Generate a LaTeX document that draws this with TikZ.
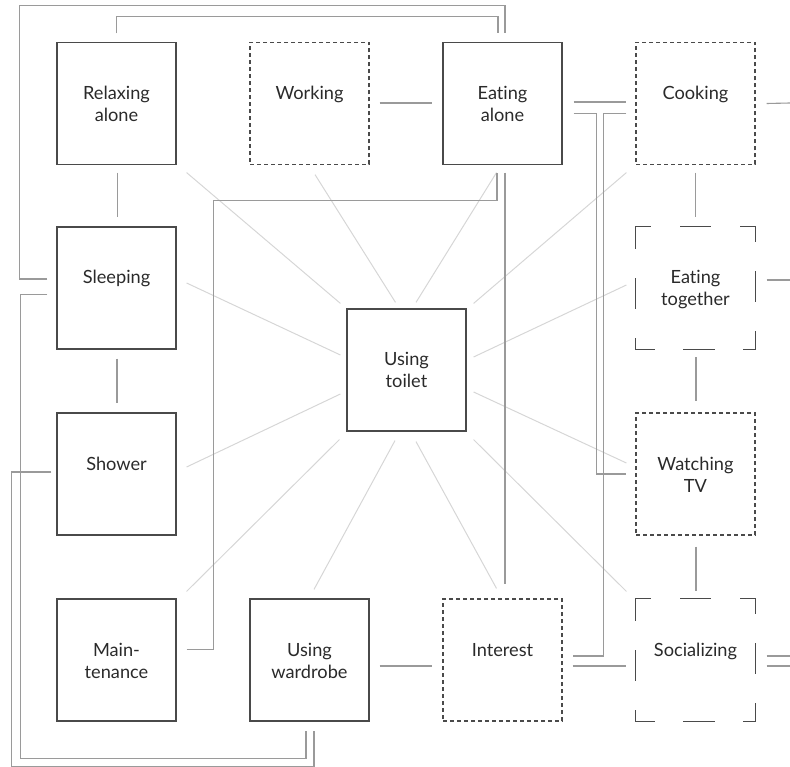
\documentclass[tikz,border=0pt]{standalone}
\usepackage{fontspec}
\setmainfont{Lato}[Ligatures={NoCommon}]
\usetikzlibrary{calc}
\definecolor{boxc}{HTML}{4A4A4A}
\definecolor{linec}{HTML}{9A9A9A}
\definecolor{radc}{HTML}{D6D6D6}
\definecolor{txtc}{HTML}{2A2A2A}
\newcommand{\boxtext}[1]{\parbox[c][122pt][t]{119pt}{\centering\fontsize{18.2}{22}\selectfont\vspace*{41.6pt}\strut #1}}
\tikzset{
  act/.style={draw=boxc, line width=1.2pt, rectangle, minimum width=119pt, minimum height=122pt, inner sep=0pt, text=txtc},
  fine/.style={act, dash pattern=on 4pt off 3pt},
  cornerbox/.style={act, draw=none},
  cornerdash/.style={draw=boxc, line width=1.2pt, line cap=rect, dash pattern=on 30pt off 30pt, dash phase=15pt},
  conn/.style={draw=linec, line width=1.1pt},
  ray/.style={draw=radc, line width=1pt},
}
\begin{document}
\begin{tikzpicture}[x=1pt, y=-1pt]
\useasboundingbox (0,0) rectangle (790,767);
% boxes
\node[act] (relax) at (116.5,103.5) {\boxtext{Relaxing\\alone}};
\node[fine] (work) at (309.5,103.5) {\boxtext{Working}};
\node[act] (eatal) at (502.5,103.5) {\boxtext{Eating\\alone}};
\node[fine] (cook) at (695.5,103.5) {\boxtext{Cooking}};
\node[act] (sleep) at (116.5,288) {\boxtext{Sleeping}};
\node[cornerbox] (eattog) at (695.5,288) {\boxtext{Eating\\together}};
\node[act] (toilet) at (406.5,370) {\boxtext{Using\\toilet}};
\node[act] (shower) at (116.5,474) {\boxtext{Shower}};
\node[fine] (tv) at (695.5,474) {\boxtext{Watching\\TV}};
\node[act] (maint) at (116.5,660) {\boxtext{Main-\\tenance}};
\node[act] (wardrobe) at (309.5,660) {\boxtext{Using\\wardrobe}};
\node[fine] (interest) at (502.5,660) {\boxtext{Interest}};
\node[cornerbox] (social) at (695.5,660) {\boxtext{Socializing}};
\draw[cornerdash] (eattog.north west) -- (eattog.north east) -- (eattog.south east) -- (eattog.south west) -- cycle;
\draw[cornerdash] (social.north west) -- (social.north east) -- (social.south east) -- (social.south west) -- cycle;
% free ends at the right edge
\coordinate (cookout) at (790,103);
\coordinate (eattogout) at (790,280);
\coordinate (socialoutA) at (790,656);
\coordinate (socialoutB) at (790,666);
% rays from toilet
\draw[ray] ($(relax.south east)+(10,7.5)$) -- ($(toilet.north west)+(-6,-5)$);
\draw[ray] ($(work.south)+(5.5,9.5)$) -- ($(toilet.north)+(-11,-6)$);
\draw[ray] ($(eatal.south)+(-6,7.5)$) -- ($(toilet.north)+(9.5,-6)$);
\draw[ray] ($(cook.south west)+(-9,7.5)$) -- ($(toilet.north east)+(7,-5)$);
\draw[ray] ($(eattog.west)+(-9,-3)$) -- ($(toilet.east)+(7,-13)$);
\draw[ray] ($(sleep.east)+(10,-5)$) -- ($(toilet.west)+(-6,-15)$);
\draw[ray] ($(shower.east)+(10,-7)$) -- ($(toilet.west)+(-6,24)$);
\draw[ray] ($(tv.west)+(-9,-11)$) -- ($(toilet.east)+(7,22)$);
\draw[ray] ($(maint.north east)+(10,-7)$) -- ($(toilet.south west)+(-7,8)$);
\draw[ray] ($(wardrobe.north)+(4.5,-9)$) -- ($(toilet.south)+(-11.5,9)$);
\draw[ray] ($(interest.north)+(-6,-10)$) -- ($(toilet.south)+(9.5,10)$);
\draw[ray] ($(social.north west)+(-9,-7)$) -- ($(toilet.south east)+(7,8)$);
% short connectors
\draw[conn] ($(relax.south)+(1,7.5)$) -- ($(sleep.north)+(1,-9)$);
\draw[conn] ($(sleep.south)+(0.5,9)$) -- ($(shower.north)+(0.5,-9)$);
\draw[conn] ($(work.east)+(10,-0.5)$) -- ($(eatal.west)+(-10,-0.5)$);
\draw[conn] ($(eatal.east)+(11,-1.5)$) -- ($(cook.west)+(-9,-1.5)$);
\draw[conn] ($(cook.south)+(0,7.5)$) -- ($(eattog.north)+(0,-9)$);
\draw[conn] ($(eattog.south)+(0.5,7.5)$) -- ($(tv.north)+(0.5,-11)$);
\draw[conn] ($(tv.south)+(0.5,11)$) -- ($(social.north)+(0.5,-7)$);
\draw[conn] ($(wardrobe.east)+(10,6)$) -- ($(interest.west)+(-10,6)$);
\draw[conn] ($(interest.east)+(10,6)$) -- ($(social.west)+(-9,6)$);
\draw[conn] ($(cook.east)+(11,0)$) -- (cookout);
\draw[conn] ($(eattog.east)+(11,-8)$) -- (eattogout);
\draw[conn] ($(social.east)+(11,-4)$) -- (socialoutA);
\draw[conn] ($(social.east)+(11,6)$) -- (socialoutB);
% long connectors
\draw[conn] ($(relax.north)+(0,-8.5)$) -- ++(0,-17) -| ($(eatal.north)+(-4.5,-8.5)$);
\draw[conn] ($(sleep.west)+(-9,-9)$) -- ++(-28,0) |- ($(eatal.north)+(2.5,-36.5)$) -- ($(eatal.north)+(2.5,-8.5)$);
\draw[conn] ($(sleep.west)+(-9,6.5)$) -- ++(-27,0) |- ($(wardrobe.south)+(-3.5,37)$) -- ($(wardrobe.south)+(-3.5,9)$);
\draw[conn] ($(shower.west)+(-5,-2)$) -- ++(-40,0) |- ($(wardrobe.south)+(4.5,45)$) -- ($(wardrobe.south)+(4.5,9)$);
\draw[conn] ($(maint.east)+(10,-10.5)$) -- ++(27,0) |- ($(eatal.south)+(-5.5,35.5)$) -- ($(eatal.south)+(-5.5,7.5)$);
\draw[conn] ($(eatal.south)+(2.5,7.5)$) -- ($(interest.north)+(2.5,-14)$);
\draw[conn] ($(eatal.east)+(11,9.8)$) -- ++(22.7,0) |- ($(tv.west)+(-9,0)$);
\draw[conn] ($(cook.west)+(-9,9.8)$) -- ++(-23,0) |- ($(interest.east)+(10,-4)$);
\end{tikzpicture}
\end{document}
